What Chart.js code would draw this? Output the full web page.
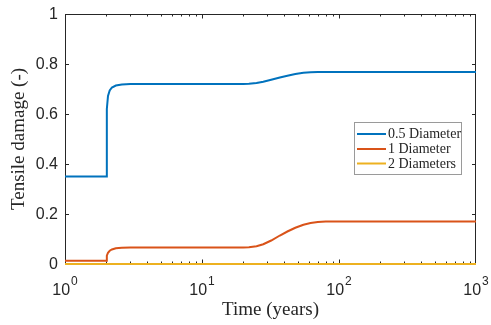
<!DOCTYPE html>
<html>
<head>
<meta charset="utf-8">
<script src="https://cdn.jsdelivr.net/npm/chart.js@4.4.1/dist/chart.umd.min.js"></script>
<style>
html,body{margin:0;padding:0;background:#fff;}
canvas{display:block;}
</style>
</head>
<body>
<canvas id="c" width="491" height="325"></canvas>
<script>
// ---- data ----
const time = [1, 2, 2.02, 2.06, 2.12, 2.2, 2.35, 2.6, 3, 5, 10, 20, 22, 25, 28, 32, 37, 42, 48, 55, 62, 70, 80, 100, 1000];
const halfDiameter = [0.35, 0.35, 0.62, 0.672, 0.694, 0.706, 0.714, 0.718, 0.72, 0.72, 0.72, 0.72, 0.721, 0.724, 0.729, 0.737, 0.746, 0.753, 0.760, 0.765, 0.767, 0.768, 0.768, 0.768, 0.768];
const oneDiameter = [0.013, 0.013, 0.033, 0.045, 0.053, 0.058, 0.063, 0.065, 0.066, 0.066, 0.066, 0.066, 0.067, 0.071, 0.079, 0.094, 0.114, 0.13, 0.145, 0.157, 0.164, 0.168, 0.17, 0.17, 0.17];
const twoDiameters = [0, 0, 0, 0, 0, 0, 0, 0, 0, 0, 0, 0, 0, 0, 0, 0, 0, 0, 0, 0, 0, 0, 0, 0, 0];
const seriesLabels = ['0.5 Diameter', '1 Diameter', '2 Diameters'];
const seriesColors = ['#0072BD', '#D95319', '#EDB120'];
const yTicks = [0, 0.2, 0.4, 0.6, 0.8, 1];
const yTickLabels = ['0', '0.2', '0.4', '0.6', '0.8', '1'];
const xMajorTicks = [1, 10, 100, 1000];
const xTickExponents = ['0', '1', '2', '3'];
const xLabel = 'Time (years)';
const yLabel = 'Tensile damage (-)';

const toPts = ys => time.map((t, i) => ({x: t, y: ys[i]}));
const AX = '#262626';

const axesPlugin = {
  id: 'axesPlugin',
  beforeDatasetsDraw(chart) {
    const ctx = chart.ctx, a = chart.chartArea;
    const xs = chart.scales.x, ys = chart.scales.y;
    ctx.save();
    ctx.strokeStyle = AX;
    ctx.lineWidth = 1;
    ctx.strokeRect(Math.round(a.left) + 0.5, Math.round(a.top) + 0.5, Math.round(a.right - a.left) - 1, Math.round(a.bottom - a.top));
    ctx.beginPath();
    // y ticks
    yTicks.forEach(v => {
      const p = Math.round(ys.getPixelForValue(v)) + 0.5;
      ctx.moveTo(a.left, p); ctx.lineTo(a.left + 4, p);
      ctx.moveTo(a.right, p); ctx.lineTo(a.right - 4, p);
    });
    // x ticks major & minor
    for (let d = 0; d < 3; d++) {
      for (let m = 1; m <= 9; m++) {
        const v = m * Math.pow(10, d);
        const p = Math.round(xs.getPixelForValue(v)) + 0.5;
        const len = m === 1 ? 4.5 : 2.5;
        ctx.moveTo(p, a.bottom); ctx.lineTo(p, a.bottom - len);
        ctx.moveTo(p, a.top); ctx.lineTo(p, a.top + len);
      }
    }
    ctx.stroke();
    // y tick labels
    ctx.fillStyle = AX;
    ctx.font = '16px "Liberation Sans", Arial, sans-serif';
    ctx.textAlign = 'right';
    ctx.textBaseline = 'middle';
    yTicks.forEach((v, i) => {
      ctx.fillText(yTickLabels[i], a.left - 7, ys.getPixelForValue(v) + 1);
    });
    // x tick labels 10^n
    ctx.textBaseline = 'alphabetic';
    ctx.textAlign = 'left';
    xMajorTicks.forEach((v, i) => {
      const p = xs.getPixelForValue(v);
      ctx.font = '16px "Liberation Sans", Arial, sans-serif';
      const w1 = ctx.measureText('10').width;
      ctx.font = '12px "Liberation Sans", Arial, sans-serif';
      const w2 = ctx.measureText(xTickExponents[i]).width;
      const x0 = p - (w1 + w2 + 1) / 2;
      ctx.font = '16px "Liberation Sans", Arial, sans-serif';
      ctx.fillText('10', x0, 295);
      ctx.font = '12px "Liberation Sans", Arial, sans-serif';
      ctx.fillText(xTickExponents[i], x0 + w1 + 1, 285);
    });
    // axis labels
    ctx.font = '19px "Liberation Serif", "Times New Roman", serif';
    ctx.textAlign = 'center';
    ctx.fillText(xLabel, (a.left + a.right) / 2, 315);
    ctx.save();
    ctx.translate(19, (a.top + a.bottom) / 2);
    ctx.rotate(-Math.PI / 2);
    ctx.textBaseline = 'middle';
    ctx.fillText(yLabel, 0, 0);
    ctx.restore();
    ctx.restore();
  },
  afterDraw(chart) {
    const ctx = chart.ctx;
    ctx.save();
    // legend box
    ctx.fillStyle = '#fff';
    ctx.fillRect(354, 122, 107, 52);
    ctx.strokeStyle = '#9a9a9a';
    ctx.lineWidth = 1;
    ctx.strokeRect(354.5, 122.5, 107, 52);
    ctx.font = '14px "Liberation Serif", "Times New Roman", serif';
    ctx.textBaseline = 'middle';
    ctx.textAlign = 'left';
    const rows = [134, 149, 163.5];
    chart.data.datasets.forEach((ds, i) => {
      ctx.strokeStyle = ds.borderColor;
      ctx.lineWidth = 2;
      ctx.beginPath();
      ctx.moveTo(357, rows[i]); ctx.lineTo(386, rows[i]);
      ctx.stroke();
      ctx.fillStyle = AX;
      ctx.fillText(ds.label, 388, rows[i] + 0.5);
    });
    ctx.restore();
  }
};

new Chart(document.getElementById('c'), {
  type: 'line',
  data: {
    datasets: [
      {label: seriesLabels[0], data: toPts(halfDiameter), borderColor: seriesColors[0]},
      {label: seriesLabels[1], data: toPts(oneDiameter), borderColor: seriesColors[1]},
      {label: seriesLabels[2], data: toPts(twoDiameters), borderColor: seriesColors[2]}
    ].map(d => Object.assign(d, {borderWidth: 2, pointRadius: 0, tension: 0, fill: false, clip: false}))
  },
  options: {
    responsive: false,
    animation: false,
    devicePixelRatio: 1,
    layout: {padding: {left: 65, right: 15, top: 14, bottom: 61}},
    scales: {
      x: {type: 'logarithmic', min: 1, max: 1000, display: false},
      y: {type: 'linear', min: 0, max: 1, display: false}
    },
    plugins: {legend: {display: false}, tooltip: {enabled: false}}
  },
  plugins: [axesPlugin]
});
</script>
</body>
</html>
